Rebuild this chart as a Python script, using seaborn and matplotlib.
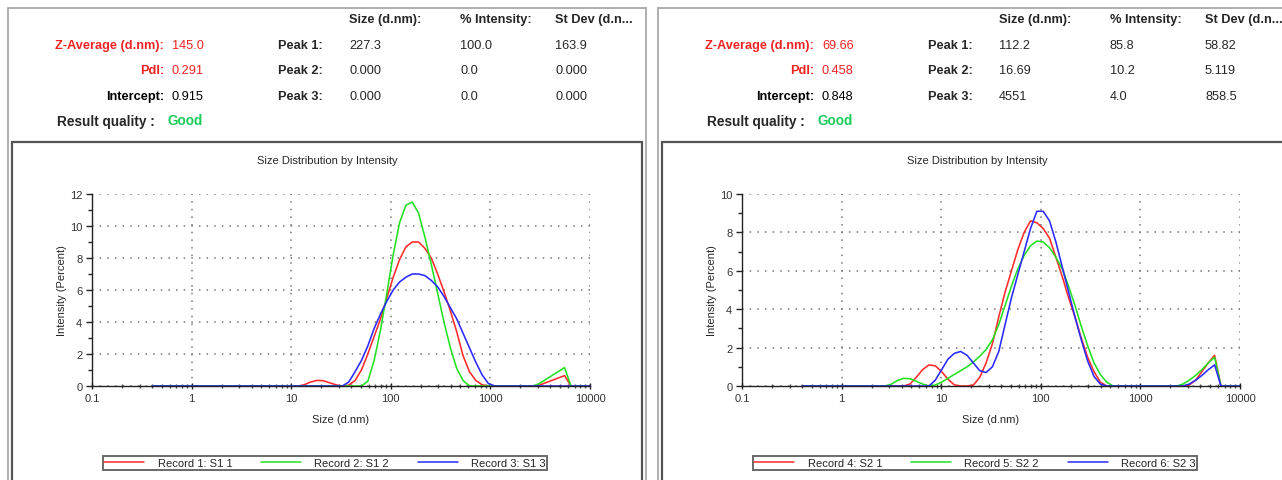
import pandas as pd
import matplotlib
matplotlib.use('Agg')
import matplotlib.pyplot as plt
import seaborn as sns
from matplotlib.patches import Rectangle
from matplotlib.lines import Line2D
from matplotlib.ticker import FixedLocator, FixedFormatter, MultipleLocator, LogLocator, NullFormatter

# Malvern size classes (d.nm)
sizes = [0.4, 0.4632, 0.5365, 0.6213, 0.7195, 0.8332, 0.9649, 1.117, 1.294, 1.499,
         1.736, 2.010, 2.328, 2.696, 3.122, 3.615, 4.187, 4.849, 5.615, 6.503,
         7.531, 8.721, 10.10, 11.70, 13.54, 15.69, 18.17, 21.04, 24.36, 28.21,
         32.67, 37.84, 43.82, 50.75, 58.77, 68.06, 78.82, 91.28, 105.7, 122.4,
         141.8, 164.2, 190.1, 220.2, 255.0, 295.3, 342.0, 396.1, 458.7, 531.2,
         615.1, 712.4, 825.0, 955.4, 1106, 1281, 1484, 1718, 1990, 2305,
         2669, 3091, 3580, 4145, 4801, 5560, 6439, 7456, 8635, 10000]

# sample S1
rec1 = [0, 0, 0, 0, 0, 0, 0, 0, 0, 0,
        0, 0, 0, 0, 0, 0, 0, 0, 0, 0,
        0, 0, 0, 0, 0.08, 0.25, 0.35, 0.33, 0.2, 0.07,
        0, 0.05, 0.35, 1.0, 2.0, 3.1, 4.2, 5.5, 6.8, 7.9,
        8.7, 9.0, 9.0, 8.6, 8.0, 7.0, 5.9, 4.7, 3.4, 1.9,
        0.9, 0.35, 0.08, 0, 0, 0, 0, 0, 0, 0,
        0, 0.05, 0.2, 0.35, 0.5, 0.65, 0, 0, 0, 0]
rec2 = [0, 0, 0, 0, 0, 0, 0, 0, 0, 0,
        0, 0, 0, 0, 0, 0, 0, 0, 0, 0,
        0, 0, 0, 0, 0, 0, 0, 0, 0, 0,
        0, 0, 0, 0, 0.3, 1.6, 3.5, 5.8, 8.2, 10.2,
        11.3, 11.5, 10.8, 9.3, 7.6, 5.8, 4.0, 2.4, 1.1, 0.35,
        0, 0, 0, 0, 0, 0, 0, 0, 0, 0,
        0, 0.15, 0.4, 0.65, 0.9, 1.15, 0, 0, 0, 0]
rec3 = [0, 0, 0, 0, 0, 0, 0, 0, 0, 0,
        0, 0, 0, 0, 0, 0, 0, 0, 0, 0,
        0, 0, 0, 0, 0, 0, 0, 0, 0, 0,
        0, 0.25, 0.9, 1.6, 2.5, 3.6, 4.5, 5.3, 6.0, 6.5,
        6.8, 7.0, 7.0, 6.9, 6.6, 6.2, 5.6, 4.9, 4.2, 3.3,
        2.4, 1.5, 0.7, 0.15, 0, 0, 0, 0, 0, 0,
        0, 0, 0, 0, 0, 0, 0, 0, 0, 0]

# sample S2
rec4 = [0, 0, 0, 0, 0, 0, 0, 0, 0, 0,
        0, 0, 0, 0, 0, 0, 0, 0.1, 0.45, 0.85,
        1.1, 1.05, 0.75, 0.35, 0.06, 0, 0, 0.05, 0.45, 1.2,
        2.2, 3.6, 4.9, 6.0, 7.1, 8.0, 8.6, 8.5, 8.2, 7.7,
        6.7, 5.7, 4.6, 3.6, 2.5, 1.5, 0.75, 0.2, 0, 0,
        0, 0, 0, 0, 0, 0, 0, 0, 0, 0,
        0, 0.05, 0.3, 0.75, 1.2, 1.6, 0, 0, 0, 0]
rec5 = [0, 0, 0, 0, 0, 0, 0, 0, 0, 0,
        0, 0, 0, 0, 0.08, 0.28, 0.4, 0.38, 0.25, 0.1,
        0, 0.05, 0.2, 0.4, 0.6, 0.8, 1.0, 1.25, 1.55, 1.9,
        2.4, 3.2, 4.2, 5.2, 6.1, 6.8, 7.3, 7.55, 7.5, 7.2,
        6.7, 6.1, 5.2, 4.2, 3.1, 2.1, 1.2, 0.6, 0.2, 0,
        0, 0, 0, 0, 0, 0, 0, 0, 0, 0,
        0.1, 0.3, 0.55, 0.85, 1.2, 1.5, 0, 0, 0, 0]
rec6 = [0, 0, 0, 0, 0, 0, 0, 0, 0, 0,
        0, 0, 0, 0, 0, 0, 0, 0, 0, 0,
        0, 0.3, 0.85, 1.4, 1.7, 1.8, 1.6, 1.2, 0.8, 0.7,
        1.0, 1.8, 3.2, 4.6, 5.8, 7.0, 8.2, 9.1, 9.1, 8.6,
        7.5, 6.2, 4.9, 3.6, 2.4, 1.3, 0.5, 0.1, 0, 0,
        0, 0, 0, 0, 0, 0, 0, 0, 0, 0,
        0, 0.1, 0.3, 0.55, 0.85, 1.1, 0, 0, 0, 0]

labels_s1 = ['Record 1: S1 1', 'Record 2: S1 2', 'Record 3: S1 3']
labels_s2 = ['Record 4: S2 1', 'Record 5: S2 2', 'Record 6: S2 3']
x_ticklabels = ['0.1', '1', '10', '100', '1000', '10000']

results_s1 = {'zavg': '145.0', 'pdi': '0.291', 'intercept': '0.915',
              'peaks': [['227.3', '100.0', '163.9'], ['0.000', '0.0', '0.000'], ['0.000', '0.0', '0.000']]}
results_s2 = {'zavg': '69.66', 'pdi': '0.458', 'intercept': '0.848',
              'peaks': [['112.2', '85.8', '58.82'], ['16.69', '10.2', '5.119'], ['4551', '4.0', '858.5']]}

colors = ['#ff2a2a', '#22e022', '#2a2aff']

sns.set_style('white')
plt.rcParams['font.family'] = ['Liberation Sans', 'DejaVu Sans']

W, H = 1282, 481
fig = plt.figure(figsize=(W / 100, H / 100), dpi=100)


def fx(px):
    return px / W


def fy(py):
    return 1 - py / H


def box(x0, y0, x1, y1, color, lw):
    fig.add_artist(Rectangle((fx(x0), fy(y1)), fx(x1) - fx(x0), fy(y0) - fy(y1),
                             transform=fig.transFigure, fill=False, edgecolor=color, lw=lw))


def panel(dx, recs, labels, res, ymax):
    # frames
    box(8 + dx, 9, 646 + dx, 495, '#a8a8a8', 1.3)
    box(12 + dx, 143, 642 + dx, 495, '#555555', 1.6)

    # header table
    red = '#ee2222'
    fs = 9.2
    lx, vx = 164 + dx, 172 + dx
    fig.text(fx(lx), fy(46), 'Z-Average (d.nm):', color=red, weight='bold', ha='right', va='center', fontsize=fs)
    fig.text(fx(vx), fy(46), res['zavg'], color=red, ha='left', va='center', fontsize=fs)
    fig.text(fx(lx), fy(71), 'PdI:', color=red, weight='bold', ha='right', va='center', fontsize=fs)
    fig.text(fx(vx), fy(71), res['pdi'], color=red, ha='left', va='center', fontsize=fs)
    fig.text(fx(lx), fy(97), 'Intercept:', color='black', weight='bold', ha='right', va='center', fontsize=fs)
    fig.text(fx(vx), fy(97), res['intercept'], color='black', ha='left', va='center', fontsize=fs)
    fig.text(fx(155 + dx), fy(122), 'Result quality :', weight='bold', ha='right', va='center', fontsize=fs + 0.6)
    fig.text(fx(168 + dx), fy(121), 'Good', color='#1ccc5a', weight='bold', ha='left', va='center', fontsize=fs + 0.6)

    cols = [349, 460, 555]
    for c, h in zip(cols, ['Size (d.nm):', '% Intensity:', 'St Dev (d.n...']):
        fig.text(fx(c + dx), fy(20), h, weight='bold', ha='left', va='center', fontsize=fs)
    for i, row in enumerate(res['peaks']):
        y = [46, 71, 97][i]
        fig.text(fx(323 + dx), fy(y), 'Peak %d:' % (i + 1), weight='bold', ha='right', va='center', fontsize=fs)
        for c, v in zip(cols, row):
            fig.text(fx(c + dx), fy(y), v, ha='left', va='center', fontsize=fs)

    # chart
    ax = fig.add_axes([fx(92 + dx), fy(387), fx(590) - fx(92), fy(195) - fy(387)])
    df = pd.DataFrame({'size': sizes * 3,
                       'intensity': recs[0] + recs[1] + recs[2],
                       'record': [labels[0]] * len(sizes) + [labels[1]] * len(sizes) + [labels[2]] * len(sizes)})
    sns.lineplot(data=df, x='size', y='intensity', hue='record', palette=colors,
                 estimator=None, sort=False, legend=False, lw=1.15, ax=ax)
    ax.set_xscale('log')
    ax.set_xlim(0.1, 10000)
    ax.set_ylim(0, ymax)
    ax.xaxis.set_major_locator(FixedLocator([0.1, 1, 10, 100, 1000, 10000]))
    ax.xaxis.set_major_formatter(FixedFormatter(x_ticklabels))
    ax.xaxis.set_minor_locator(LogLocator(base=10, subs=range(2, 10)))
    ax.xaxis.set_minor_formatter(NullFormatter())
    ax.yaxis.set_major_locator(MultipleLocator(2))
    ax.yaxis.set_minor_locator(MultipleLocator(1))
    ax.grid(True, which='major', ls=(0, (1, 4)), color='#777777', lw=1.1)
    for s in ['top', 'right']:
        ax.spines[s].set_visible(False)
    for s in ['left', 'bottom']:
        ax.spines[s].set_color('#222222')
        ax.spines[s].set_linewidth(1.0)
    ax.tick_params(axis='both', which='major', labelsize=8, labelcolor='#333333', length=4, width=1, color='#222222', pad=3)
    ax.tick_params(axis='y', which='both', direction='out', left=True)
    ax.tick_params(axis='y', which='minor', length=3, width=1, color='#222222')
    ax.tick_params(axis='x', which='both', direction='inout', bottom=True)
    ax.tick_params(axis='x', which='minor', length=3, width=1, color='#444444')
    ax.set_xlabel('')
    ax.set_ylabel('')

    fig.text(fx(327 + dx), fy(161), 'Size Distribution by Intensity', ha='center', va='center', fontsize=8)
    fig.text(fx(341 + dx), fy(420), 'Size (d.nm)', ha='center', va='center', fontsize=8)
    fig.text(fx(62 + dx), fy(291), 'Intensity (Percent)', ha='center', va='center', rotation=90, fontsize=8)

    handles = [Line2D([], [], color=c, lw=1.1) for c in colors]
    leg = fig.legend(handles, labels, loc='center', bbox_to_anchor=(fx(325 + dx), fy(464)), ncol=3,
                     fontsize=8, frameon=True, fancybox=False, handlelength=3.6, handletextpad=1.2,
                     columnspacing=2.6, borderpad=0.15, borderaxespad=0)
    leg.get_frame().set_edgecolor('#444444')
    leg.get_frame().set_linewidth(1.4)
    return ax


panel(0, [rec1, rec2, rec3], labels_s1, results_s1, 12)
panel(650, [rec4, rec5, rec6], labels_s2, results_s2, 10)

fig.savefig('out.png', dpi=100)
